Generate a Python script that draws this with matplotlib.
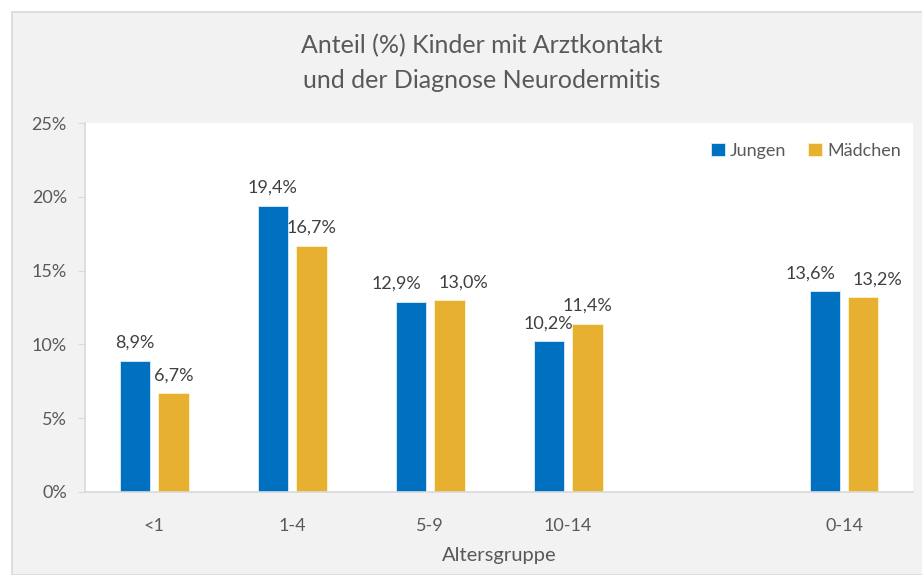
import numpy as np
import matplotlib.pyplot as plt
from matplotlib.patches import Rectangle

# data
gruppen = ['<1', '1-4', '5-9', '10-14', '', '0-14']
jungen = [8.9, 19.4, 12.9, 10.2, None, 13.6]
maedchen = [6.7, 16.7, 13.0, 11.4, None, 13.2]

blau = '#0070C0'
gold = '#E8B031'
grau = '#595959'

plt.rcParams['font.family'] = ['Lato', 'DejaVu Sans']

fig = plt.figure(figsize=(9.22, 5.75), dpi=100)
W, H = 922, 575
# grey chart frame
fig.patches.append(Rectangle((12 / W, 0), 1, 1 - 12 / H, transform=fig.transFigure,
                             facecolor='#F2F2F2', edgecolor='#D9D9D9', lw=1.2, zorder=-5))

ax = fig.add_axes([85 / W, 1 - 492 / H, (913 - 85) / W, (492 - 123) / H])
ax.set_facecolor('white')
ax.set_zorder(2)

x = np.arange(len(gruppen))
w = 0.22
off = 0.14
idx = [i for i in range(len(gruppen)) if jungen[i] is not None]
jv = [jungen[i] for i in idx]
mv = [maedchen[i] for i in idx]
b1 = ax.bar(x[idx] - off, jv, w, color=blau, edgecolor='#DDEBF7', lw=0.6, label='Jungen')
b2 = ax.bar(x[idx] + off, mv, w, color=gold, edgecolor='#FFF2CC', lw=0.6, label='Mädchen')

# labels: push apart when the two bars are nearly equal (like the original)
for bars, vals, other, sign in ((b1, jv, mv, -1), (b2, mv, jv, 1)):
    for b, v, o in zip(bars, vals, other):
        dx = sign * 10 if abs(v - o) < 1 else 0
        ax.annotate(f'{v:.1f}%'.replace('.', ','), (b.get_x() + b.get_width() / 2, v),
                    xytext=(dx, 7), textcoords='offset points', ha='center', va='bottom',
                    fontsize=13, color='#404040')

ax.set_xlim(-0.5, len(gruppen) - 0.5)
ax.set_ylim(0, 25)
ax.set_yticks(range(0, 26, 5))
ax.set_yticklabels([f'{t}%' for t in range(0, 26, 5)])
ax.set_xticks(x)
ax.set_xticklabels(gruppen)
ax.tick_params(axis='y', colors='#D9D9D9', labelcolor=grau, labelsize=13, length=5, pad=8)
ax.tick_params(axis='x', length=0, labelcolor=grau, labelsize=13, pad=19)
for s in ('top', 'right'):
    ax.spines[s].set_visible(False)
for s in ('left', 'bottom'):
    ax.spines[s].set_color('#D9D9D9')
    ax.spines[s].set_linewidth(1.2)

ax.set_xlabel('Altersgruppe', fontsize=14.5, color=grau, labelpad=9)
fig.text(0.522, 1 - 63 / H, 'Anteil (%) Kinder mit Arztkontakt\nund der Diagnose Neurodermitis',
         ha='center', va='center', fontsize=18, color=grau, linespacing=1.6)

leg = ax.legend(loc='upper right', ncol=2, frameon=False, fontsize=13, handlelength=0.75,
                handleheight=0.75, handletextpad=0.3, columnspacing=1.2,
                bbox_to_anchor=(1.005, 0.99), labelcolor=grau)

fig.savefig('out.png', dpi=100, facecolor='white')
